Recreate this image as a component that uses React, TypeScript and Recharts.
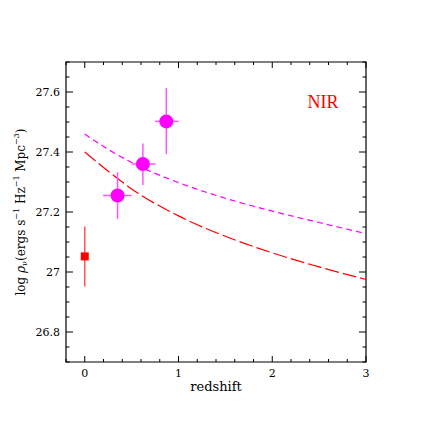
import React from "react";
import {
  ComposedChart,
  Line,
  Scatter,
  XAxis,
  YAxis,
  ErrorBar,
  ReferenceArea,
} from "recharts";

// ---- data ----
const xTicks = [-0.2, 0, 0.2, 0.4, 0.6, 0.8, 1, 1.2, 1.4, 1.6, 1.8, 2, 2.2, 2.4, 2.6, 2.8, 3];
const xMajor = [0, 1, 2, 3];
const yTicks = [
  26.7, 26.75, 26.8, 26.85, 26.9, 26.95, 27, 27.05, 27.1, 27.15, 27.2, 27.25,
  27.3, 27.35, 27.4, 27.45, 27.5, 27.55, 27.6, 27.65, 27.7,
];
const yMajor = [26.8, 27, 27.2, 27.4, 27.6];

const curveZ = [0, 0.25, 0.5, 1.0, 1.5, 2.0, 2.5, 3.0];
const magentaCurve = [27.46, 27.409, 27.365, 27.298, 27.246, 27.203, 27.165, 27.128];
const redCurve = [27.4, 27.336, 27.277, 27.187, 27.119, 27.064, 27.017, 26.975];

const nirZ = [0.35, 0.62, 0.87];
const nirY = [27.255, 27.36, 27.502];
const nirErrY = [
  [0.078, 0.078],
  [0.07, 0.068],
  [0.109, 0.111],
];
const nirErrX = [
  [0.155, 0.15],
  [0.12, 0.135],
  [0.12, 0.13],
];

const localZ = [0];
const localY = [27.052];
const localErrY = [[0.1, 0.1]];

const magentaData = curveZ.map((z, i) => ({ z, v: magentaCurve[i] }));
const redData = curveZ.map((z, i) => ({ z, v: redCurve[i] }));
const nirData = nirZ.map((z, i) => ({ z, y: nirY[i], ey: nirErrY[i], ex: nirErrX[i] }));
const localData = localZ.map((z, i) => ({ z, y: localY[i], ey: localErrY[i] }));

// ---- layout ----
const W = 420;
const H = 420;
const PL = 58;
const PT = 54;
const PW = 300;
const PH = 300;
const PB = PT + PH;
const PR = PL + PW;
const XAX_H = 30;
const YAX_W = 50;

const SERIF = "'DejaVu Serif', serif";

const isMajor = (v: number, list: number[]) => list.some((m) => Math.abs(m - v) < 1e-6);

const XTick = (props: any) => {
  const { x, payload } = props;
  const v = payload.value;
  const major = isMajor(v, xMajor);
  const len = major ? 6 : 3;
  return (
    <g>
      <line x1={x} x2={x} y1={PB} y2={PB - len} stroke="#000" strokeWidth={1} />
      <line x1={x} x2={x} y1={PT} y2={PT + len} stroke="#000" strokeWidth={1} />
      {major && (
        <text x={x} y={369} textAnchor="middle" fontFamily={SERIF} fontSize={11} fill="#000">
          {String(v)}
        </text>
      )}
    </g>
  );
};

const YTick = (props: any) => {
  const { y, payload } = props;
  const v = payload.value;
  const major = isMajor(v, yMajor);
  const len = major ? 7 : 3.5;
  return (
    <g>
      <line x1={PL} x2={PL + len} y1={y} y2={y} stroke="#000" strokeWidth={1} />
      <line x1={PR} x2={PR - len} y1={y} y2={y} stroke="#000" strokeWidth={1} />
      {major && (
        <text x={52} y={y} dy="0.36em" textAnchor="end" fontFamily={SERIF} fontSize={11} fill="#000">
          {String(Math.round(v * 10) / 10)}
        </text>
      )}
    </g>
  );
};

const Circle = (props: any) => {
  const { cx, cy } = props;
  return <circle cx={cx} cy={cy} r={7} fill="#ff00ff" />;
};

const Square = (props: any) => {
  const { cx, cy } = props;
  return <rect x={cx - 4} y={cy - 4} width={8} height={8} fill="#ff0000" />;
};

export default function App() {
  return (
    <ComposedChart
      width={W}
      height={H}
      margin={{ top: PT, right: W - PR, bottom: H - PB - XAX_H, left: PL - YAX_W }}
      style={{ background: "#fff" }}
    >
      <XAxis
        type="number"
        dataKey="z"
        domain={[-0.2, 3]}
        ticks={xTicks}
        interval={0}
        tick={<XTick />}
        tickLine={false}
        axisLine={false}
        height={XAX_H}
        allowDataOverflow
      />
      <YAxis
        type="number"
        domain={[26.7, 27.7]}
        ticks={yTicks}
        interval={0}
        tick={<YTick />}
        tickLine={false}
        axisLine={false}
        width={YAX_W}
        allowDataOverflow
      />
      <ReferenceArea
        x1={-0.2}
        x2={3}
        y1={26.7}
        y2={27.7}
        fill="none"
        fillOpacity={0}
        stroke="#000"
        strokeWidth={1.2}
        ifOverflow="visible"
      />
      <Line
        data={redData}
        dataKey="v"
        type="monotone"
        stroke="#ff0000"
        strokeWidth={1.2}
        strokeDasharray="14 4"
        dot={false}
        activeDot={false}
        isAnimationActive={false}
      />
      <Line
        data={magentaData}
        dataKey="v"
        type="monotone"
        stroke="#ff00ff"
        strokeWidth={1.2}
        strokeDasharray="6 4"
        dot={false}
        activeDot={false}
        isAnimationActive={false}
      />
      <Scatter data={localData} dataKey="y" shape={<Square />} isAnimationActive={false}>
        <ErrorBar dataKey="ey" direction="y" width={0} stroke="#ff5555" strokeWidth={1.5} isAnimationActive={false} />
      </Scatter>
      <Scatter data={nirData} dataKey="y" shape={<Circle />} isAnimationActive={false}>
        <ErrorBar dataKey="ey" direction="y" width={0} stroke="#ff55ff" strokeWidth={1.5} isAnimationActive={false} />
        <ErrorBar dataKey="ex" direction="x" width={0} stroke="#ff55ff" strokeWidth={1.5} isAnimationActive={false} />
      </Scatter>
      <text x={315} y={100} textAnchor="middle" fontFamily="'Liberation Serif', serif" fontSize={18} fill="#ff0000">
        NIR
      </text>
      <text x={208} y={383} textAnchor="middle" fontFamily={SERIF} fontSize={13} fill="#000">
        redshift
      </text>
      <text
        x={13}
        y={204}
        transform="rotate(-90 13 204)"
        textAnchor="middle"
        dominantBaseline="central"
        fontFamily={SERIF}
        fontSize={12}
        fill="#000"
      >
        <tspan>log </tspan>
        <tspan fontStyle="italic">ρ</tspan>
        <tspan fontSize={8} dy={3}>ν</tspan>
        <tspan dy={-3}>(ergs s</tspan>
        <tspan fontSize={8} dy={-5}>−1</tspan>
        <tspan dy={5}> Hz</tspan>
        <tspan fontSize={8} dy={-5}>−1</tspan>
        <tspan dy={5}> Mpc</tspan>
        <tspan fontSize={8} dy={-5}>−3</tspan>
        <tspan dy={5}>)</tspan>
      </text>
    </ComposedChart>
  );
}
